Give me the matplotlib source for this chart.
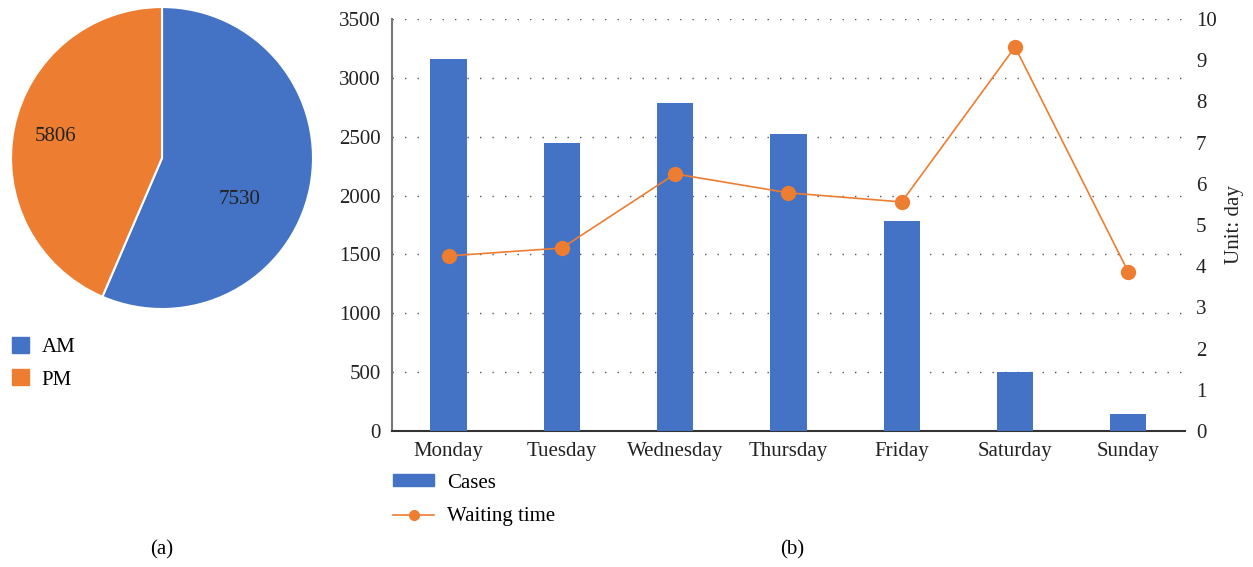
import matplotlib

matplotlib.use('Agg')
import numpy as np
import matplotlib.pyplot as plt
from matplotlib.patches import Patch
from matplotlib.lines import Line2D

plt.rcParams['font.family'] = ['Liberation Serif', 'DejaVu Serif']
plt.rcParams['font.size'] = 15

# pie data
pie_labels = ['AM', 'PM']
pie_values = [7530, 5806]

# bar / line data
days = ['Monday', 'Tuesday', 'Wednesday', 'Thursday', 'Friday', 'Saturday', 'Sunday']
cases = [3160, 2447, 2786, 2523, 1784, 501, 144]
waiting = [4.25, 4.44, 6.24, 5.78, 5.56, 9.32, 3.86]

BLUE = '#4472C4'
ORANGE = '#ED7D31'
TXT = '#222222'

fig = plt.figure(figsize=(12.53, 5.67), dpi=100)

# (a) pie
axp = fig.add_axes([0.0088, 0.455, 0.241, 0.5326])
wedges, texts, autotexts = axp.pie(
    pie_values, colors=[BLUE, ORANGE], startangle=90, counterclock=False,
    autopct=lambda p: '{:.0f}'.format(p * sum(pie_values) / 100),
    pctdistance=0.72, wedgeprops=dict(edgecolor='white', linewidth=1.5),
    textprops=dict(color=TXT, fontsize=15))
# AM label sits lower than the wedge middle in the original
ang = np.deg2rad(-28)
autotexts[0].set_position((0.58 * np.cos(ang), 0.58 * np.sin(ang)))
axp.set_xlim(-1.0, 1.0)
axp.set_ylim(-1.0, 1.0)
axp.set_aspect('equal')

fig.legend([Patch(color=BLUE), Patch(color=ORANGE)], pie_labels,
           loc='upper left', bbox_to_anchor=(-0.005, 1 - 318 / 567),
           frameon=False, handlelength=0.8, handleheight=0.8,
           handletextpad=0.6, labelspacing=0.6, fontsize=15)

# (b) bars + line
ax = fig.add_axes([0.3128, 0.2399, 0.6329, 0.7266])
x = np.arange(len(days))
ax.bar(x, cases, width=0.32, color=BLUE, zorder=3, label='Cases')
ax.set_xlim(-0.5, len(days) - 0.5)
ax.set_ylim(0, 3500)
ax.set_yticks(np.arange(0, 3501, 500))
ax.set_xticks(x)
ax.set_xticklabels(days)
ax.tick_params(axis='both', length=0, pad=8, colors=TXT)
ax.yaxis.grid(True, linestyle=(0, (1, 8)), color='#555555', linewidth=1.0, zorder=0)
ax.set_axisbelow(True)
for s in ['top', 'right']:
    ax.spines[s].set_visible(False)
ax.spines['left'].set_color('#777777')
ax.spines['left'].set_linewidth(1.5)
ax.spines['bottom'].set_color('#333333')
ax.spines['bottom'].set_linewidth(1.5)

ax2 = ax.twinx()
ax2.plot(x, waiting, color=ORANGE, marker='o', markersize=10, linewidth=1.2,
         zorder=4, label='Waiting time')
ax2.set_ylim(0, 10)
ax2.set_yticks(np.arange(0, 11, 1))
ax2.tick_params(axis='y', length=0, pad=8, colors=TXT)
for s in ['top', 'right', 'left', 'bottom']:
    ax2.spines[s].set_visible(False)
ax2.set_ylabel('Unit: day', color=TXT, labelpad=6)

handles = [Patch(color=BLUE),
           Line2D([0], [0], color=ORANGE, marker='o', markersize=7, linewidth=1.2)]
fig.legend(handles, ['Cases', 'Waiting time'], loc='upper left',
           bbox_to_anchor=(374 / 1253, 1 - 455 / 567), frameon=False,
           handlelength=2.0, handleheight=0.5, handletextpad=0.6,
           labelspacing=0.7, fontsize=15)

fig.text(162 / 1253, 1 - 550 / 567, '(a)', ha='center', va='center', fontsize=15)
fig.text(792 / 1253, 1 - 550 / 567, '(b)', ha='center', va='center', fontsize=15)

fig.savefig('out.png', dpi=100)
